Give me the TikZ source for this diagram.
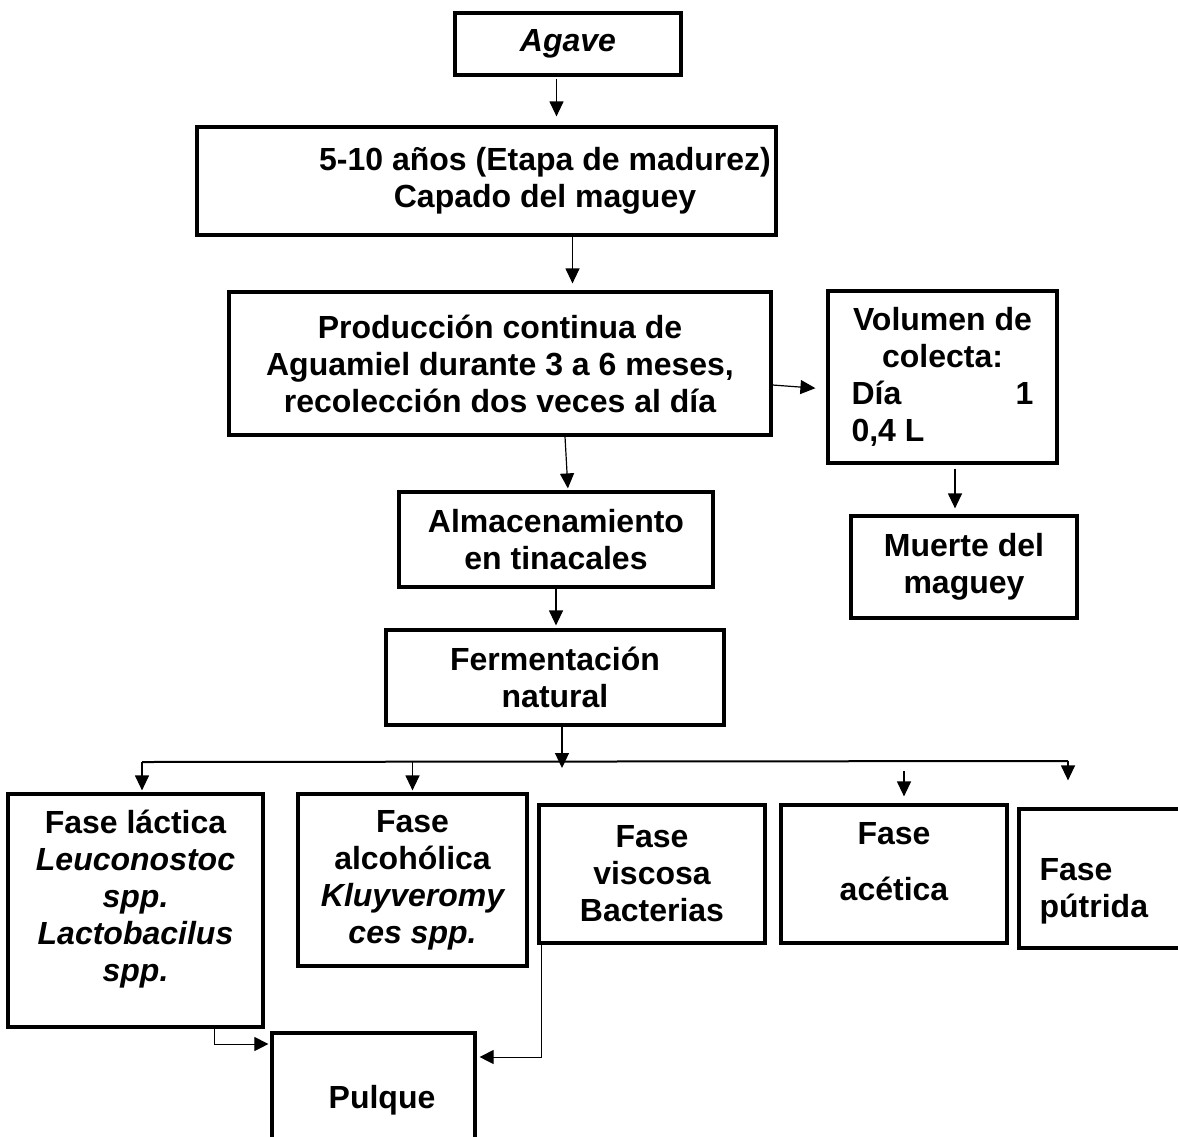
\documentclass[tikz,border=0pt]{standalone}
\usepackage{fontspec}
\setmainfont{Liberation Sans}
\usetikzlibrary{arrows.meta}
\begin{document}
\begin{tikzpicture}[x=1pt,y=-1pt,
  box/.style={draw, line width=3.2pt, rectangle, inner sep=0pt, align=center,
    font=\bfseries\fontsize{32}{37}\selectfont},
  txt/.style={inner sep=0pt, align=center, font=\bfseries\fontsize{32}{37}\selectfont},
  arr/.style={line width=1.2pt, -{Triangle[length=15pt,width=14pt]}},
  thinarr/.style={line width=1pt, -{Triangle[length=14pt,width=14pt]}},
  bus/.style={line width=2pt}]
\useasboundingbox (0,0) rectangle (1178,1136);
\clip (0,0) rectangle (1178,1136);

% boxes
\node[box, minimum width=226, minimum height=62] (agave) at (568,44) {\itshape Agave};
\node[box, minimum width=579, minimum height=108,
  label={[txt, xshift=58.5pt]center:{5-10 años (Etapa de madurez)\\Capado del maguey}}]
  (madurez) at (486.5,181) {};
\node[box, minimum width=542, minimum height=143] (prod) at (500,363.5)
  {Producción continua de\\Aguamiel durante 3 a 6 meses,\\recolección dos veces al día};
\node[box, align=left, minimum width=229, minimum height=172] (vol) at (942.5,377)
  {\makebox[182pt][c]{Volumen de}\\\makebox[182pt][c]{colecta:}\\\makebox[182pt]{Día\hfill 1}\\0,4 L};
\node[box, minimum width=226, minimum height=102] (muerte) at (964,567) {Muerte del\\maguey};
\node[box, minimum width=314, minimum height=95] (almac) at (556,539.5) {Almacenamiento\\en tinacales};
\node[box, minimum width=338, minimum height=95] (ferm) at (555,677.5) {Fermentación\\natural};

\node[box, minimum width=255, minimum height=233,
  label={[txt, yshift=11pt]center:{Fase láctica\\{\itshape Leuconostoc}\\{\itshape spp.}\\{\itshape Lactobacilus}\\{\itshape spp.}}}]
  (lactica) at (135.5,910.5) {};
\node[box, minimum width=229, minimum height=172] (alcoholica) at (412.5,880)
  {Fase\\alcohólica\\{\itshape Kluyveromy}\\{\itshape ces spp.}};
\node[box, minimum width=226, minimum height=138] (viscosa) at (652,874) {Fase\\viscosa\\Bacterias};
\node[box, minimum width=226, minimum height=138,
  label={[txt, yshift=12pt]center:{Fase\\[19pt]acética}}]
  (acetica) at (894,874) {};
\node[box, minimum width=221, minimum height=139,
  label={[txt, align=left, anchor=west, xshift=22pt, yshift=-12.5pt]west:{Fase\\pútrida}}]
  (putrida) at (1129.5,878.5) {};
\node[box, minimum width=203, minimum height=117,
  label={[txt, xshift=8.5pt, yshift=-9pt]center:{Pulque}}]
  (pulque) at (373.5,1091.5) {};

% connectors
\draw[arr, shorten <=2pt, shorten >=9pt] ([xshift=-11.5pt]agave.south) -- ([xshift=-11.5pt]agave.south |- madurez.north);
\draw[arr, shorten >=7pt] ([xshift=86pt]madurez.south) -- ([xshift=86pt]madurez.south |- prod.north);
\draw[arr, shorten >=11pt] ([yshift=-21.5pt]prod.east) -- ([yshift=-12pt]vol.west);
\draw[arr, shorten >=2pt] ([xshift=65pt]prod.south) -- ([xshift=12pt]almac.north);
\draw[arr, shorten <=4pt, shorten >=6pt] ([xshift=12.5pt]vol.south) -- ([xshift=12.5pt]vol.south |- muerte.north);
\draw[arr, shorten >=3pt] (almac.south) -- (almac.south |- ferm.north);

\coordinate (busL) at (142,762);
\coordinate (busR) at (1068,761);
\coordinate (fermTip) at (562,768);
\draw[arr] (ferm.south -| fermTip) -- (fermTip);
\draw[bus] (busL) -- (busR);
\draw[arr, shorten >=27pt] (busR) -- (putrida.north -| busR);
\draw[arr, shorten >=2pt] (busL) -- (busL |- lactica.north);
\draw[arr, shorten >=2pt] (alcoholica.north |- busL) -- (alcoholica.north);
\draw[arr, shorten <=9pt, shorten >=7pt] ([xshift=10pt]acetica.north |- busL) -- ([xshift=10pt]acetica.north);

\draw[thinarr, shorten >=2pt] ([xshift=78.5pt]lactica.south) |- ([yshift=47.5pt]pulque.west);
\draw[thinarr, shorten >=3pt] ([xshift=-111pt]viscosa.south) |- ([yshift=34.5pt]pulque.east);
\end{tikzpicture}
\end{document}
